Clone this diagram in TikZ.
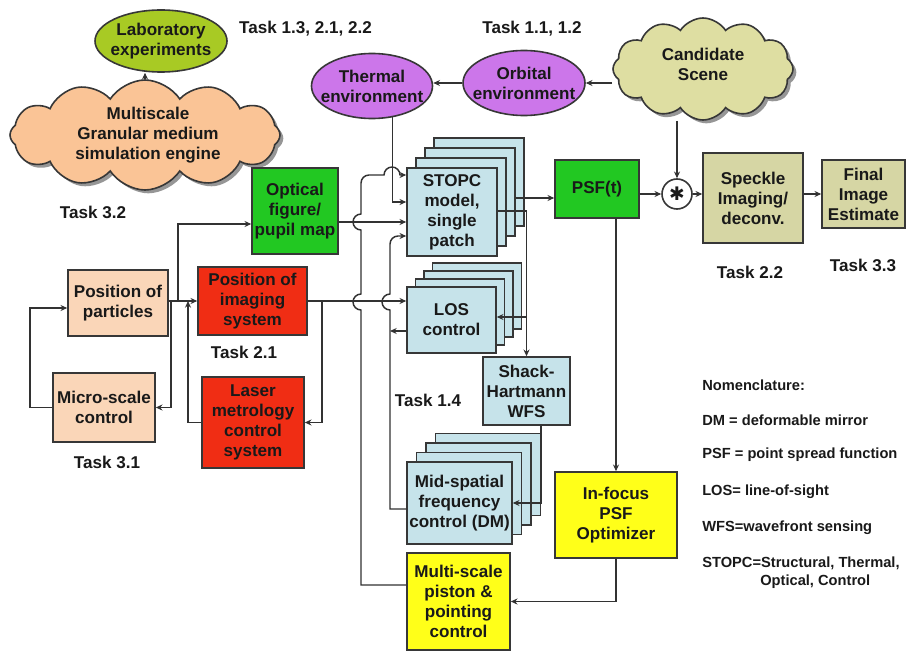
\documentclass[tikz,border=0pt]{standalone}
\usepackage{fontspec}
\setmainfont{Liberation Sans}
\newfontfamily\symfont{DejaVu Sans}
\usetikzlibrary{shapes.geometric,shapes.symbols,arrows.meta,shadows}
\pgfdeclarelayer{background}
\pgfsetlayers{background,main}
\definecolor{linecol}{RGB}{50,50,50}
\definecolor{bordcol}{RGB}{55,55,55}
\definecolor{txtcol}{RGB}{25,25,25}
\definecolor{labgreen}{RGB}{168,202,36}
\definecolor{cloudpeach}{RGB}{250,196,150}
\definecolor{violetfill}{RGB}{204,118,234}
\definecolor{candfill}{RGB}{222,222,162}
\definecolor{khaki}{RGB}{214,214,164}
\definecolor{psfgreen}{RGB}{34,200,34}
\definecolor{peach}{RGB}{250,214,184}
\definecolor{redfill}{RGB}{240,45,20}
\definecolor{lightblue}{RGB}{198,227,234}
\definecolor{yellowfill}{RGB}{255,255,25}
\tikzset{
  sz/.style 2 args={minimum width=#1*0.75pt, minimum height=#2*0.75pt},
  mainfont/.style={font=\fontsize{12.8}{15}\selectfont\bfseries},
  box/.style={rectangle, draw=bordcol, line width=1.2pt, inner sep=0pt, align=center, text=txtcol, mainfont},
  lbl/.style={inner sep=0pt, align=center, text=txtcol, mainfont},
  ell/.style={ellipse, draw=bordcol, line width=1.2pt, inner sep=0pt},
  cloudshape/.style={cloud, cloud puffs=12, cloud puff arc=115, cloud ignores aspect, draw=bordcol, line width=1.2pt, inner sep=0pt,
     drop shadow={shadow xshift=2.5pt, shadow yshift=-2.5pt, opacity=0.55, fill=black!75}},
  nom/.style={anchor=west, inner sep=0pt, text=txtcol, font=\fontsize{11}{13}\selectfont\bfseries},
  arr/.style={draw=linecol, line width=1.1pt, -{Stealth[length=5pt,width=4.5pt]}},
}
\begin{document}
\begin{tikzpicture}[x=0.75pt,y=-0.75pt]
\fill[white] (0,0) rectangle (906,652);
\useasboundingbox (0,0) rectangle (906,652);

% ---------- boxes ----------
\node[box, fill=peach, sz={100}{66}] (particles) at (118,303) {Position of\\particles};
\node[box, fill=peach, sz={102}{69}] (micro) at (104,407.5) {Micro-scale\\control};
\node[box, fill=psfgreen, sz={86}{86}] (optical) at (295,211) {Optical\\figure/\\pupil map};
\node[box, fill=redfill, sz={109}{68}] (imaging) at (252.5,301) {Position of\\imaging\\system};
\node[box, fill=redfill, sz={102}{91}] (laser) at (253,422.5) {Laser\\metrology\\control\\system};

\foreach \k in {3,2,1}{
  \node[box, fill=lightblue, sz={90}{88}] (stopc\k) at ({452+9*\k},{212-10*\k}) {};
}
\node[box, fill=lightblue, sz={90}{88}] (stopc) at (452,212) {STOPC\\model,\\single\\patch};

\foreach \k in {3,2,1}{
  \node[box, fill=lightblue, sz={89}{66}] (los\k) at ({451.5+8.5*\k},{320-8*\k}) {};
}
\node[box, fill=lightblue, sz={89}{66}] (los) at (451.5,320) {LOS\\control};

\node[box, fill=lightblue, sz={87}{68}] (sh) at (526.5,391) {Shack-\\Hartmann\\WFS};

\foreach \k in {3,2,1}{
  \node[box, fill=lightblue, sz={105}{82}] (mid\k) at ({459.5+9.5*\k},{503-9.5*\k}) {};
}
\node[box, fill=lightblue, sz={105}{82}] (mid) at (459.5,503) {Mid-spatial\\frequency\\control (DM)};

\node[box, fill=yellowfill, sz={122}{86}] (infocus) at (616,515) {In-focus\\PSF\\Optimizer};
\node[box, fill=yellowfill, sz={103}{97}] (piston) at (458.5,601.5) {Multi-scale\\piston \&\\pointing\\control};

\node[box, fill=psfgreen, sz={84}{58}] (psf) at (597,189) {PSF(t)};
\node[circle, draw=bordcol, line width=1.2pt, fill=white, sz={30}{30}, inner sep=0pt] (circ) at (677,194) {};
\node[inner sep=0pt, text=txtcol, font=\symfont\fontsize{14}{14}\selectfont] (circtext) at (circ.center) {✱};
\node[box, fill=khaki, sz={100}{90}] (speckle) at (753,198) {Speckle\\Imaging/\\deconv.};
\node[box, fill=khaki, sz={83}{68}] (final) at (863.5,194) {Final\\Image\\Estimate};

% ---------- ellipses ----------
\node[ell, fill=labgreen, sz={132}{62}] (lab) at (161,41) {};
\node[lbl] (labtext) at (lab.center) {Laboratory\\experiments};
\node[ell, fill=violetfill, sz={121}{65}] (thermal) at (372,86) {};
\node[lbl] (thermaltext) at (thermal.center) {Thermal\\environment};
\node[ell, fill=violetfill, sz={122}{65}] (orbital) at (524,83) {};
\node[lbl] (orbitaltext) at (orbital.center) {Orbital\\environment};

% ---------- clouds ----------
\coordinate (msfoot) at (30,160);
\node[cloudshape, fill=cloudpeach, sz={270}{110}] (multiscale) at (145,135) {};
\node[lbl] (multiscaletext) at (148,135) {Multiscale\\Granular medium\\simulation engine};
\node[cloudshape, fill=candfill, sz={180}{102}] (candidate) at (703,69) {};
\node[lbl] (candidatetext) at (703,64) {Candidate\\Scene};

% ---------- task labels ----------
\node[lbl] (t13) at (305.5,29) {Task 1.3, 2.1, 2.2};
\node[lbl] (t11) at (532,29) {Task 1.1, 1.2};
\node[lbl] (t32) at (93,212) {Task 3.2};
\node[lbl] (t31) at (107,462) {Task 3.1};
\node[lbl] (t21) at (244,352) {Task 2.1};
\node[lbl] (t14) at (428,400) {Task 1.4};
\node[lbl] (t22) at (750,272) {Task 2.2};
\node[lbl] (t33) at (863,265) {Task 3.3};

% ---------- nomenclature ----------
\node[nom] (n0) at (702,385) {Nomenclature:};
\node[nom] (n1) at (702,420) {DM = deformable mirror};
\node[nom] (n2) at (702,455) {PSF = point spread function};
\node[nom] (n3) at (702,492) {LOS= line-of-sight};
\node[nom] (n4) at (702,528) {WFS=wavefront sensing};
\node[nom] (n5) at (702,563) {STOPC=Structural, Thermal,};
\node[nom] (n6) at (760,582) {Optical, Control};

% ---------- junctions ----------
\coordinate (j1) at (178,301);
\coordinate (j2) at (171,301);
\coordinate (j3) at (188,301);
\coordinate (j4) at (322,301);
\coordinate (j5) at (390,331);
\coordinate (j6) at (526.5,317);

% ---------- connectors ----------
\begin{pgfonlayer}{background}
\draw[arr] (msfoot) |- (particles.west |- 0,293);
\end{pgfonlayer}
\draw[arr] (multiscale.north) -- (multiscale.north |- lab.south);
\draw[arr] (micro.west) -| (30,308) -- (particles.west |- 0,308);
\draw[arr] (particles.east |- imaging.west) -- (imaging.west);
\draw[arr] (j1) |- (optical.west |- 0,224);
\draw[arr] (j2) |- (micro.east);
\draw[arr] (laser.west) -| (j3);
\draw[arr] (j4) |- (laser.east);
\draw[arr] (imaging.east) -- (los.west |- imaging.east);
\draw[arr] (optical.east |- 0,222) -- (stopc.west |- 0,222);
\draw[arr] (thermal.303) |- (stopc.west |- 0,202);
\draw[arr] (piston.west |- 0,585) -- (361,585) -- (361,310)
  .. controls (356.58,310) and (353,306.42) .. (353,302)
  .. controls (353,297.58) and (356.58,294) .. (361,294)
  -- (361,230)
  .. controls (356.58,230) and (353,226.42) .. (353,222)
  .. controls (353,217.58) and (356.58,214) .. (361,214)
  -- (361,183) .. controls (361,178.6) and (364.6,175) .. (369,175)
  -- (384,175)
  .. controls (384,170.58) and (387.58,167) .. (392,167)
  .. controls (396.42,167) and (400,170.58) .. (400,175)
  -- (stopc.west |- 0,175);
\draw[arr] (mid.west |- 0,509) -- (390,509) -- (390,310)
  .. controls (385.58,310) and (382,306.42) .. (382,302)
  .. controls (382,297.58) and (385.58,294) .. (390,294)
  -- (390,244) .. controls (390,239.6) and (393.6,236) .. (398,236)
  -- (stopc.west |- 0,236);
\draw[arr] (los.west |- j5) -- (j5);
\draw[arr] (stopc2.east |- 0,198) -- (psf.west |- 0,198);
\draw[arr] (stopc.east |- 0,211) -| (sh.north);
\draw[arr] (j6) -- (los.east |- j6);
\draw[arr] (sh.south -| 541,0) |- (mid.east);
\draw[arr] (infocus.north |- psf.south) -- (infocus.north);
\draw[arr] (infocus.south) |- (piston.east);
\draw[arr] (psf.east |- circ.west) -- (circ.west);
\draw[arr] (circ.east) -- (circ.east -| speckle.west);
\draw[arr] (speckle.east |- final.west) -- (final.west);
\draw[arr] (circ.north |- candidate.south) -- (circ.north);
\draw[arr] (orbital.east -| candidate.west) -- (orbital.east);
\draw[arr] (orbital.west) -- (thermal.east |- orbital.west);
\end{tikzpicture}
\end{document}
